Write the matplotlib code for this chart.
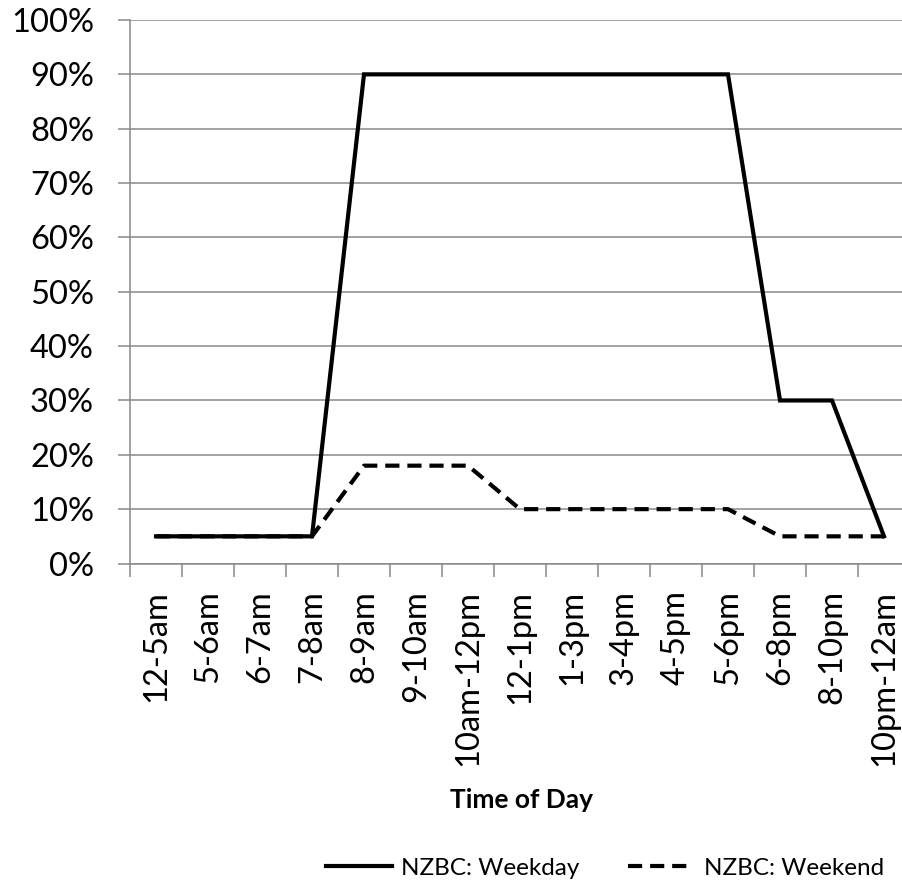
import matplotlib
matplotlib.use('Agg')
import matplotlib.pyplot as plt
from matplotlib.ticker import FixedLocator, PercentFormatter

plt.rcParams['font.family'] = ['Lato', 'DejaVu Sans']

# Occupancy schedule by time of day (percent)
time_slots = ['12-5am', '5-6am', '6-7am', '7-8am', '8-9am', '9-10am', '10am-12pm',
              '12-1pm', '1-3pm', '3-4pm', '4-5pm', '5-6pm', '6-8pm', '8-10pm', '10pm-12am']
weekday = [5, 5, 5, 5, 90, 90, 90, 90, 90, 90, 90, 90, 30, 30, 5]
weekend = [5, 5, 5, 5, 18, 18, 18, 10, 10, 10, 10, 10, 5, 5, 5]

grey = '#898989'

fig = plt.figure(figsize=(9.03, 8.85), dpi=100)
ax = fig.add_axes([130 / 903, 321.5 / 885, 780 / 903, 543.5 / 885])

x = list(range(len(time_slots)))
ax.plot(x, weekday, color='black', linewidth=3, solid_joinstyle='miter',
        label='NZBC: Weekday')
ax.plot(x, weekend, color='black', linewidth=3, dashes=(3.4, 1.9),
        label='NZBC: Weekend')

ax.set_xlim(-0.5, len(time_slots) - 0.5)
ax.set_ylim(0, 100)
ax.yaxis.set_major_locator(FixedLocator(range(0, 101, 10)))
ax.yaxis.set_major_formatter(PercentFormatter(decimals=0))

# ticks sit on category boundaries, labels in the middle
ax.set_xticks([i - 0.5 for i in range(len(time_slots) + 1)])
ax.set_xticklabels([])
ax.set_xticks(x, minor=True)
ax.set_xticklabels(time_slots, minor=True, rotation=90, fontsize=23.5)
ax.tick_params(axis='x', which='major', length=9, width=1.1, color=grey, direction='out')
ax.tick_params(axis='x', which='minor', length=0, pad=19)
ax.tick_params(axis='y', length=9, width=1.1, color=grey, direction='out',
               labelsize=23.5, pad=17)

ax.grid(axis='y', color=grey, linewidth=1.1)
ax.set_axisbelow(True)
for side in ['top', 'right']:
    ax.spines[side].set_visible(False)
for side in ['left', 'bottom']:
    ax.spines[side].set_color(grey)
    ax.spines[side].set_linewidth(1.1)

fig.text(521 / 903, 1 - 808 / 885, 'Time of Day', ha='center', va='baseline',
         fontsize=19, fontweight='bold')

fig.legend(loc='center', bbox_to_anchor=(605 / 903, 1 - 868 / 885), ncol=2,
           frameon=False, fontsize=17.5, handlelength=2.7, handletextpad=0.4,
           columnspacing=2.0, borderpad=0, borderaxespad=0)

fig.savefig('out.png', dpi=100)
